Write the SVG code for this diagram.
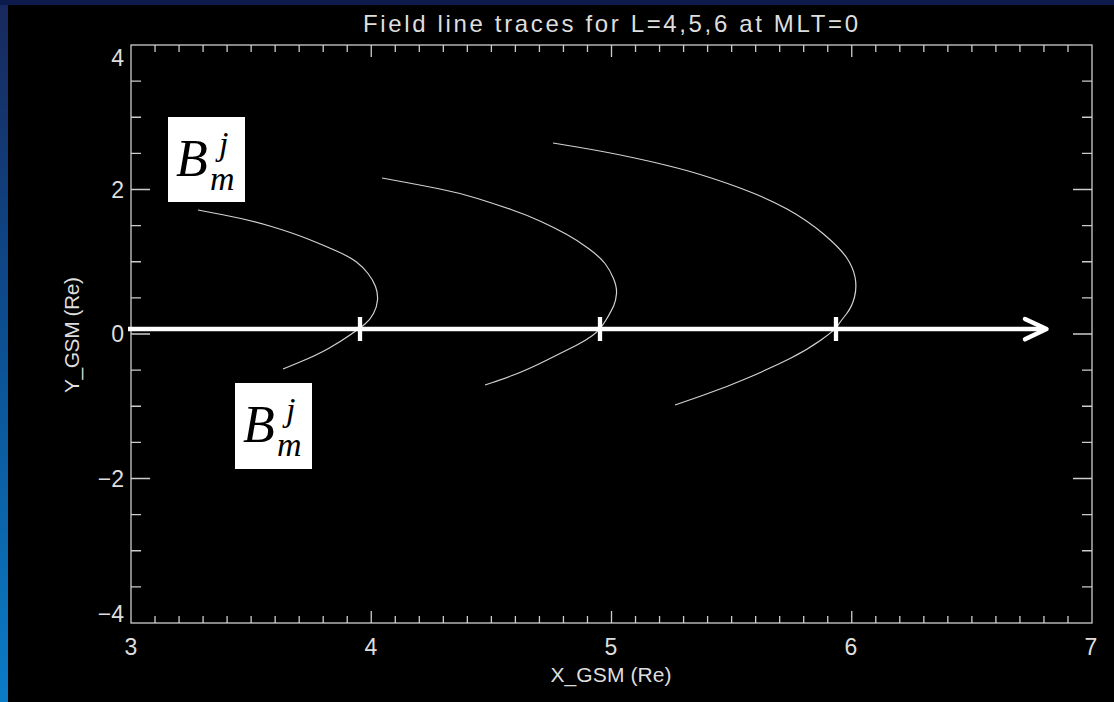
<svg xmlns="http://www.w3.org/2000/svg" width="1114" height="702" viewBox="0 0 1114 702">
<defs>
<linearGradient id="side" x1="0" y1="0" x2="0" y2="1">
<stop offset="0" stop-color="#18285c"/>
<stop offset="0.45" stop-color="#0c4c8e"/>
<stop offset="1" stop-color="#0a7cc6"/>
</linearGradient>
<style>
.ax{stroke:#cccccc;stroke-width:1.3;fill:none}
.fl{stroke:#d2d2d2;stroke-width:1.2;fill:none;stroke-linejoin:round}
.lbl{font-family:"Liberation Sans",Arial,sans-serif;fill:#dedede;font-size:23px}
.ttl{font-family:"Liberation Sans",Arial,sans-serif;fill:#dedede;font-size:24px}
.axt{font-family:"Liberation Sans",Arial,sans-serif;fill:#dedede;font-size:21px}
.shaft{stroke:#ffffff;stroke-width:4.3;fill:none}
.head{stroke:#ffffff;stroke-width:4.5;fill:none;stroke-linecap:round;stroke-linejoin:round}
.box{fill:#ffffff}
.mB{font-family:"Liberation Serif","Times New Roman",serif;font-style:italic;fill:#000000;font-size:52px}
.ms{font-size:34px}
</style>
</defs>
<g id="background">
<rect width="1114" height="702" fill="url(#side)"/>
<rect width="1114" height="5" fill="#0d1a4c"/>
<rect x="8" y="5" width="1106" height="697" fill="#000000"/>
</g>
<g id="title">
<text class="ttl" x="363" y="32" textLength="495" lengthAdjust="spacing">Field line traces for L=4,5,6 at MLT=0</text>
</g>
<g id="axes">
<rect class="ax" x="131" y="45" width="961" height="578"/>
<path class="ax" d="M155.03 623v-7M179.05 623v-7M203.08 623v-7M227.1 623v-7M251.13 623v-7M275.15 623v-7M299.18 623v-7M323.2 623v-7M347.23 623v-7M371.25 623v-12M395.28 623v-7M419.3 623v-7M443.33 623v-7M467.35 623v-7M491.38 623v-7M515.4 623v-7M539.43 623v-7M563.45 623v-7M587.48 623v-7M611.5 623v-12M635.53 623v-7M659.55 623v-7M683.58 623v-7M707.6 623v-7M731.63 623v-7M755.65 623v-7M779.68 623v-7M803.7 623v-7M827.73 623v-7M851.75 623v-12M875.78 623v-7M899.8 623v-7M923.83 623v-7M947.85 623v-7M971.88 623v-7M995.9 623v-7M1019.93 623v-7M1043.95 623v-7M1067.98 623v-7"/>
<path class="ax" d="M155.03 45v7M179.05 45v7M203.08 45v7M227.1 45v7M251.13 45v7M275.15 45v7M299.18 45v7M323.2 45v7M347.23 45v7M371.25 45v12M395.28 45v7M419.3 45v7M443.33 45v7M467.35 45v7M491.38 45v7M515.4 45v7M539.43 45v7M563.45 45v7M587.48 45v7M611.5 45v12M635.53 45v7M659.55 45v7M683.58 45v7M707.6 45v7M731.63 45v7M755.65 45v7M779.68 45v7M803.7 45v7M827.73 45v7M851.75 45v12M875.78 45v7M899.8 45v7M923.83 45v7M947.85 45v7M971.88 45v7M995.9 45v7M1019.93 45v7M1043.95 45v7M1067.98 45v7"/>
<path class="ax" d="M131 81.13h10M131 117.25h10M131 153.38h10M131 189.5h19M131 225.63h10M131 261.75h10M131 297.88h10M131 334h19M131 370.13h10M131 406.25h10M131 442.38h10M131 478.5h19M131 514.63h10M131 550.75h10M131 586.88h10"/>
<path class="ax" d="M1092 81.13h-10M1092 117.25h-10M1092 153.38h-10M1092 189.5h-19M1092 225.63h-10M1092 261.75h-10M1092 297.88h-10M1092 334h-19M1092 370.13h-10M1092 406.25h-10M1092 442.38h-10M1092 478.5h-19M1092 514.63h-10M1092 550.75h-10M1092 586.88h-10"/>
</g>
<g id="axis-labels">
<text class="lbl" x="124" y="66" text-anchor="end">4</text>
<text class="lbl" x="124" y="198" text-anchor="end">2</text>
<text class="lbl" x="124" y="342" text-anchor="end">0</text>
<text class="lbl" x="124" y="487" text-anchor="end">−2</text>
<text class="lbl" x="124" y="622" text-anchor="end">−4</text>
<text class="lbl" x="131" y="655" text-anchor="middle">3</text>
<text class="lbl" x="371" y="655" text-anchor="middle">4</text>
<text class="lbl" x="611" y="655" text-anchor="middle">5</text>
<text class="lbl" x="851" y="655" text-anchor="middle">6</text>
<text class="lbl" x="1091" y="655" text-anchor="middle">7</text>
<text class="axt" x="611" y="682" text-anchor="middle" textLength="121" lengthAdjust="spacing">X_GSM (Re)</text>
<text class="axt" transform="translate(79 335) rotate(-90)" x="0" y="0" text-anchor="middle" textLength="116" lengthAdjust="spacing">Y_GSM (Re)</text>
</g>
<g id="field-lines">
<path id="L4" class="fl" d="M198 210 L224 215 Q250 220 271.5 226.5 Q293 233 308 239 Q323 245 336.5 251 Q350 257 356.5 262 Q363 267 368 273.5 Q373 280 375.5 286.5 Q378 293 377.5 300 Q377 307 373.5 313.5 Q370 320 365 324 Q360 328 350 335 Q340 342 328.5 348.5 Q317 355 300 362 L283 369"/>
<path id="L5" class="fl" d="M382 178 L401 181.5 Q420 185 440 189 Q460 193 477.5 198.5 Q495 204 511 209.5 Q527 215 541 221.5 Q555 228 566 234 Q577 240 588.5 248.5 Q600 257 605 263.5 Q610 270 613.5 278.5 Q617 287 616.5 293.5 Q616 300 614 305 Q612 310 606 320 Q600 330 592.5 335.5 Q585 341 576 345.5 Q567 350 547 360 Q527 370 513.5 375 Q500 380 492.5 382.5 L485 385"/>
<path id="L6" class="fl" d="M553 143 L580 147.5 Q607 152 637 158.5 Q667 165 690 171.5 Q713 178 740 188 Q767 198 787 209 Q807 220 823.5 234 Q840 248 846.5 257.5 Q853 267 855 277 Q857 287 854.5 297 Q852 307 846 314.5 Q840 322 837.5 326 Q835 330 821 340 Q807 350 790 358.5 Q773 367 750 377 Q727 387 701 396 L675 405"/>
</g>
<g id="connectors">
<line class="shaft" x1="128" y1="329" x2="1044" y2="329"/>
<polyline class="head" points="1025,319 1046.5,329 1025,339.3"/>
<line class="shaft" x1="360" y1="317" x2="360" y2="341"/>
<line class="shaft" x1="600" y1="317" x2="600" y2="341"/>
<line class="shaft" x1="836" y1="317" x2="836" y2="341"/>
</g>
<g id="label-top">
<rect class="box" x="168" y="117" width="77" height="85"/>
<text class="mB" x="176" y="176">B<tspan class="ms" x="219" y="155">j</tspan><tspan class="ms" x="210" y="190">m</tspan></text>
</g>
<g id="label-bottom">
<rect class="box" x="235" y="383" width="77" height="86"/>
<text class="mB" x="243" y="442">B<tspan class="ms" x="286" y="421">j</tspan><tspan class="ms" x="277" y="456">m</tspan></text>
</g>
</svg>
